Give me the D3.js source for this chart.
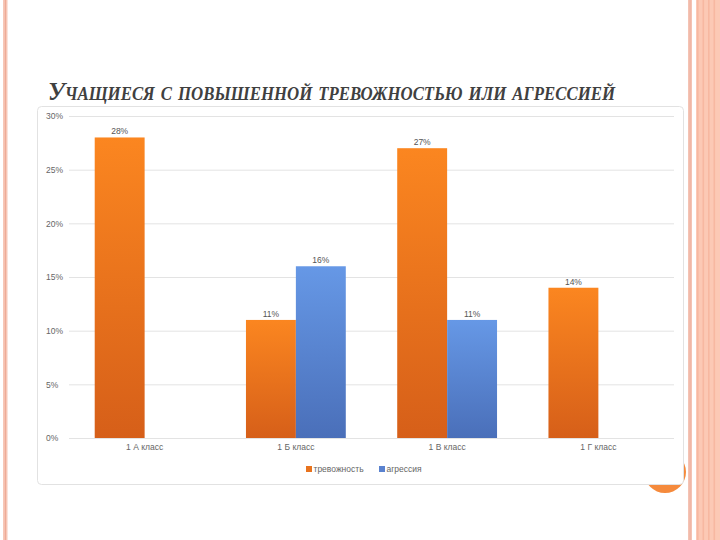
<!DOCTYPE html>
<html><head><meta charset="utf-8">
<script src="https://cdn.jsdelivr.net/npm/d3@7"></script>
<style>html,body{margin:0;padding:0;background:#fff;}svg{display:block;}</style>
</head><body>
<script>
const categories = ["1 А класс", "1 Б класс", "1 В класс", "1 Г класс"];
const seriesNames = ["тревожность", "агрессия"];
const anxiety = [28, 11, 27, 14];
const aggression = [0, 16, 11, 0];
const yTicks = [0, 5, 10, 15, 20, 25, 30];
const titleText = "Учащиеся с повышенной тревожностью или агрессией";

const W = 720, H = 540;
const svg = d3.select("body").append("svg").attr("width", W).attr("height", H);
const defs = svg.append("defs");

function vgrad(id, top, bottom) {
  const g = defs.append("linearGradient").attr("id", id).attr("x1", 0).attr("y1", 0).attr("x2", 0).attr("y2", 1);
  g.append("stop").attr("offset", "0%").attr("stop-color", top);
  g.append("stop").attr("offset", "100%").attr("stop-color", bottom);
}
vgrad("gOrange", "#fb8620", "#d65f19");
vgrad("gBlue", "#6698e6", "#4a6fb9");

// slide frame decorations
svg.append("rect").attr("x", 3).attr("y", 0).attr("width", 4.5).attr("height", H).attr("fill", "#f7c7b7");
svg.append("rect").attr("x", 4.8).attr("y", 0).attr("width", 1.2).attr("height", H).attr("fill", "#eeab97");
svg.append("rect").attr("x", 688).attr("y", 0).attr("width", 4).attr("height", H).attr("fill", "#f4c3b4");
svg.append("rect").attr("x", 689.5).attr("y", 0).attr("width", 1.2).attr("height", H).attr("fill", "#eeb2a0");
svg.append("rect").attr("x", 696).attr("y", 0).attr("width", 24).attr("height", H).attr("fill", "#fcc9b5");
[697, 702.5, 708, 713.5].forEach(x => {
  svg.append("rect").attr("x", x).attr("y", 0).attr("width", 1.6).attr("height", H).attr("fill", "#f7b8a1");
});

// orange circle beneath chart box
svg.append("circle").attr("cx", 665).attr("cy", 472).attr("r", 21).attr("fill", "#f58a3c");

// title
const title = svg.append("text")
  .attr("x", 48).attr("y", 100)
  .attr("font-family", "Liberation Serif, Times New Roman, serif")
  .attr("font-style", "italic").attr("font-weight", "bold")
  .style("font-variant", "small-caps")
  .attr("font-size", 26).attr("fill", "#404040")
  .text(titleText);
title.attr("textLength", 567).attr("lengthAdjust", "spacingAndGlyphs");

// chart box
svg.append("rect").attr("x", 37.5).attr("y", 106.5).attr("width", 646).attr("height", 378)
  .attr("rx", 4).attr("fill", "#fff").attr("stroke", "#e2e2e2").attr("stroke-width", 1);

const x0 = d3.scaleBand().domain(categories).range([69, 674]).paddingInner(0.34).paddingOuter(0.17);
const x1 = d3.scaleBand().domain(seriesNames).range([0, x0.bandwidth()]);
const y = d3.scaleLinear().domain([0, 30]).range([438, 116]);

// gridlines + y labels
const yAxis = d3.axisLeft(y).tickValues(yTicks).tickSize(-(674 - 69)).tickFormat(d => d + "%");
const gy = svg.append("g").attr("transform", "translate(69,0)").call(yAxis);
gy.select(".domain").remove();
gy.selectAll(".tick line").attr("stroke", "#e3e3e3").attr("stroke-width", 1);
gy.selectAll(".tick text").attr("x", -23).attr("text-anchor", "start")
  .attr("font-family", "Liberation Sans, Arial, sans-serif").attr("font-size", 8.5).attr("fill", "#666");

// x labels
const xAxis = d3.axisBottom(x0).tickSize(0).tickPadding(6);
const gx = svg.append("g").attr("transform", "translate(0,438)").call(xAxis);
gx.select(".domain").remove();
gx.selectAll(".tick text").attr("font-family", "Liberation Sans, Arial, sans-serif")
  .attr("font-size", 8.5).attr("fill", "#666");

// bars
const seriesVals = [anxiety, aggression];
const fills = ["url(#gOrange)", "url(#gBlue)"];
const rows = [];
categories.forEach((c, i) => seriesNames.forEach((s, j) => rows.push({c, s, j, v: seriesVals[j][i]})));

svg.append("g").selectAll("rect").data(rows.filter(d => d.v > 0)).join("rect")
  .attr("x", d => x0(d.c) + x1(d.s))
  .attr("y", d => y(d.v))
  .attr("width", x1.bandwidth())
  .attr("height", d => y(0) - y(d.v))
  .attr("fill", d => fills[d.j]);

svg.append("g").selectAll("text").data(rows.filter(d => d.v > 0)).join("text")
  .attr("x", d => x0(d.c) + x1(d.s) + x1.bandwidth() / 2)
  .attr("y", d => y(d.v) - 3)
  .attr("text-anchor", "middle")
  .attr("font-family", "Liberation Sans, Arial, sans-serif").attr("font-size", 8.5).attr("fill", "#555")
  .text(d => d.v + "%");

// legend
const legendColors = ["#e8731e", "#5a82cf"];
const legX = [306, 379];
seriesNames.forEach((s, j) => {
  svg.append("rect").attr("x", legX[j]).attr("y", 466).attr("width", 6).attr("height", 6).attr("fill", legendColors[j]);
  svg.append("text").attr("x", legX[j] + 7.5).attr("y", 472)
    .attr("font-family", "Liberation Sans, Arial, sans-serif").attr("font-size", 8.5).attr("fill", "#666")
    .text(s);
});
</script>
</body></html>
